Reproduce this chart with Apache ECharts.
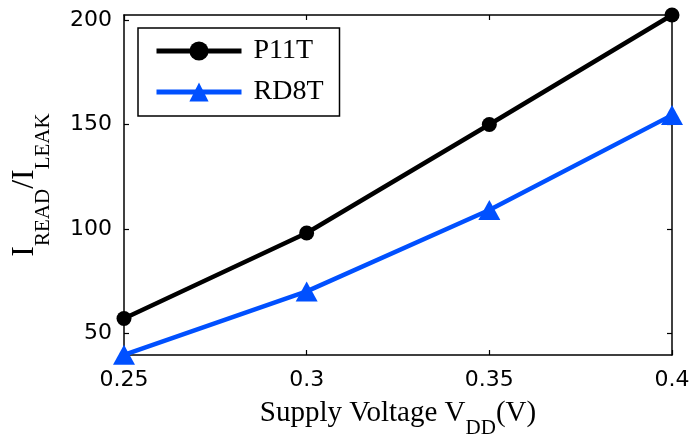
<!DOCTYPE html>
<html>
<head>
<meta charset="utf-8">
<script src="https://cdn.jsdelivr.net/npm/echarts@6/dist/echarts.min.js"></script>
<style>
  html, body { margin: 0; padding: 0; background: #fff; }
  #chart { width: 694px; height: 441px; }
</style>
</head>
<body>
<div id="chart"></div>
<script>
// Supply voltage sweep (V)
const voltage = [0.25, 0.3, 0.35, 0.4];
// Read-to-leakage current ratio per cell design
const p11t = [57, 98, 150, 202.5];
const rd8t = [39.6, 70, 109, 154.5];
// Tick positions
const xTicks = [0.25, 0.3, 0.35, 0.4];
const yTicks = [50, 100, 150, 200];

const blue = '#0050ff';
const serif = '"Liberation Serif", "Times New Roman", serif';
const sans = '"DejaVu Sans", Verdana, sans-serif';

const chart = echarts.init(document.getElementById('chart'), null, { renderer: 'canvas' });

const pairs = (xs, ys) => xs.map((x, i) => [x, ys[i]]);

const axisBase = {
  type: 'value',
  axisLine: { show: true, onZero: false, lineStyle: { color: '#000', width: 1.5 } },
  axisTick: { show: true, inside: true, length: 5, lineStyle: { color: '#000', width: 1.2 } },
  splitLine: { show: false }
};

chart.setOption({
  animation: false,
  backgroundColor: '#fff',
  grid: { left: 124, right: 22, top: 15, bottom: 86, containLabel: false, outerBoundsMode: 'none' },
  xAxis: [
    Object.assign({}, axisBase, {
      min: 0.25, max: 0.4,
      position: 'bottom',
      axisTick: Object.assign({}, axisBase.axisTick, { customValues: xTicks }),
      axisLabel: { customValues: xTicks, color: '#000', fontFamily: sans, fontSize: 22, margin: 14,
        formatter: v => String(+v.toFixed(2)) },
      name: '{t|Supply Voltage V}{s|DD}{t|(V)}',
      nameLocation: 'middle',
      nameGap: 44,
      nameTextStyle: {
        rich: {
          t: { fontFamily: serif, fontSize: 29, color: '#000', lineHeight: 30, verticalAlign: 'top' },
          s: { fontFamily: serif, fontSize: 21, color: '#000', lineHeight: 40, verticalAlign: 'bottom' }
        }
      }
    }),
    Object.assign({}, axisBase, {
      min: 0.25, max: 0.4,
      position: 'top',
      axisTick: Object.assign({}, axisBase.axisTick, { customValues: xTicks }),
      axisLabel: { show: false }
    })
  ],
  yAxis: [
    Object.assign({}, axisBase, {
      min: 39.5, max: 202.5,
      position: 'left',
      axisTick: Object.assign({}, axisBase.axisTick, { customValues: yTicks }),
      axisLabel: { customValues: yTicks, color: '#000', fontFamily: sans, fontSize: 22, margin: 12 },
      name: '{t|I}{s|READ}{t|/I}{s|LEAK}',
      nameLocation: 'middle',
      nameRotate: 90,
      nameGap: 70,
      nameTextStyle: {
        rich: {
          t: { fontFamily: serif, fontSize: 32, color: '#000', lineHeight: 36, verticalAlign: 'top' },
          s: { fontFamily: serif, fontSize: 21, color: '#000', lineHeight: 45, verticalAlign: 'bottom' }
        }
      }
    }),
    Object.assign({}, axisBase, {
      min: 39.5, max: 202.5,
      position: 'right',
      axisTick: Object.assign({}, axisBase.axisTick, { customValues: yTicks }),
      axisLabel: { show: false }
    })
  ],
  legend: {
    left: 138, top: 28,
    orient: 'vertical',
    padding: [9, 16, 10, 16],
    itemGap: 13,
    itemWidth: 85,
    itemHeight: 24,
    borderColor: '#000',
    borderWidth: 1.5,
    backgroundColor: '#fff',
    textStyle: { fontFamily: serif, fontSize: 28, lineHeight: 28, color: '#000', padding: [0, 0, 0, 7] },
    data: [
      { name: 'P11T', lineStyle: { width: 5 } },
      { name: 'RD8T', lineStyle: { width: 5 } }
    ]
  },
  series: [
    {
      name: 'P11T', type: 'line',
      data: pairs(voltage, p11t),
      clip: false,
      symbol: 'circle', symbolSize: 15,
      lineStyle: { color: '#000', width: 4.5 },
      itemStyle: { color: '#000' },
      z: 3
    },
    {
      name: 'RD8T', type: 'line',
      data: pairs(voltage, rd8t),
      clip: false,
      symbol: 'triangle', symbolSize: [22, 20],
      lineStyle: { color: blue, width: 4.5 },
      itemStyle: { color: blue },
      z: 3
    }
  ]
});
</script>
</body>
</html>
